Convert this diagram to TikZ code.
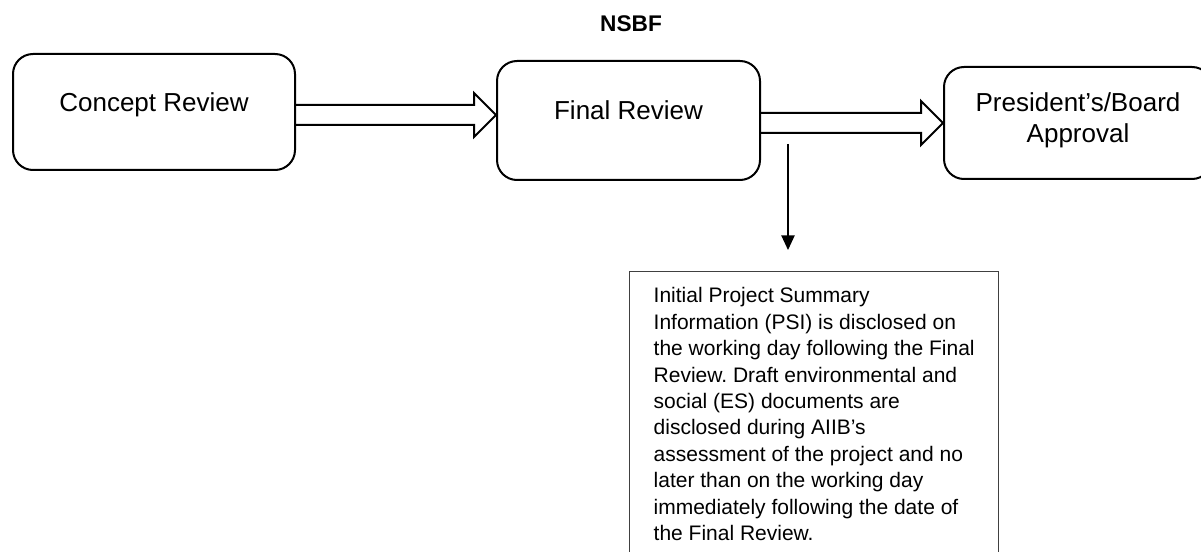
\documentclass[tikz,border=0pt]{standalone}
\usepackage{fontspec}
\setmainfont{Liberation Sans}
\usepackage{tikz}
\usetikzlibrary{calc,arrows.meta}
\frenchspacing

% wide open arrow between two stage boxes, #3 = vertical offset of its axis
\newcommand{\hollowarrow}[3]{%
    \coordinate (tail) at ($(#1.east)+(0,#3)$);
    \coordinate (tip) at (#2.west |- tail);
    \draw[hollow] ($(tail)+(0,-10)$) -- ($(tip)+(-22,-10)$) -- ($(tip)+(-22,-22)$) -- (tip)
        -- ($(tip)+(-22,22)$) -- ($(tip)+(-22,10)$) -- ($(tail)+(0,10)$);
}

\begin{document}
\begin{tikzpicture}[x=0.75pt,y=-0.75pt,
    stagebox/.style={draw,line width=1.5pt,rounded corners=15pt,align=center,
        font=\fontsize{19.5}{23}\selectfont,text height=14pt,text depth=15pt},
    hollow/.style={line width=1.5pt,line join=miter},
    notebox/.style={draw=black!75,line width=1pt,anchor=north west,align=left,
        minimum width=276.75pt,inner ysep=12pt,
        font=\fontsize{15.75}{19.8}\selectfont},
    thinarrow/.style={line width=1pt,-{Triangle[length=11pt,width=10pt]}}]

    \useasboundingbox (0,0) rectangle (1201,552);
    \clip (0,0) rectangle (1201,552);

    \node[anchor=base,font=\fontsize{17}{20}\selectfont\bfseries] (title) at (631,32) {NSBF};

    % the three stages
    \node[stagebox,minimum width=211.5pt,minimum height=87pt] (concept) at (154,112) {Concept Review};
    \node[stagebox,minimum width=197.25pt,minimum height=89.25pt] (final) at (628.5,120.5) {Final Review};
    \node[stagebox,minimum width=201pt,minimum height=84pt,text height=37pt,text depth=8pt] (approval) at (1078,123)
        {President’s/Board\\Approval};

    \hollowarrow{concept}{final}{3}
    \hollowarrow{final}{approval}{2.5}

    % disclosure note below the second arrow
    \node[notebox] (note) at (629,271)
        {Initial Project Summary\\
        Information (PSI) is disclosed on\\
        the working day following the Final\\
        Review. Draft environmental and\\
        social (ES) documents are\\
        disclosed during AIIB’s\\
        assessment of the project and no\\
        later than on the working day\\
        immediately following the date of\\
        the Final Review.};

    \coordinate (drop) at (788,144);
    \draw[thinarrow,shorten >=15.75pt] (drop) -- (drop |- note.north);

\end{tikzpicture}
\end{document}
